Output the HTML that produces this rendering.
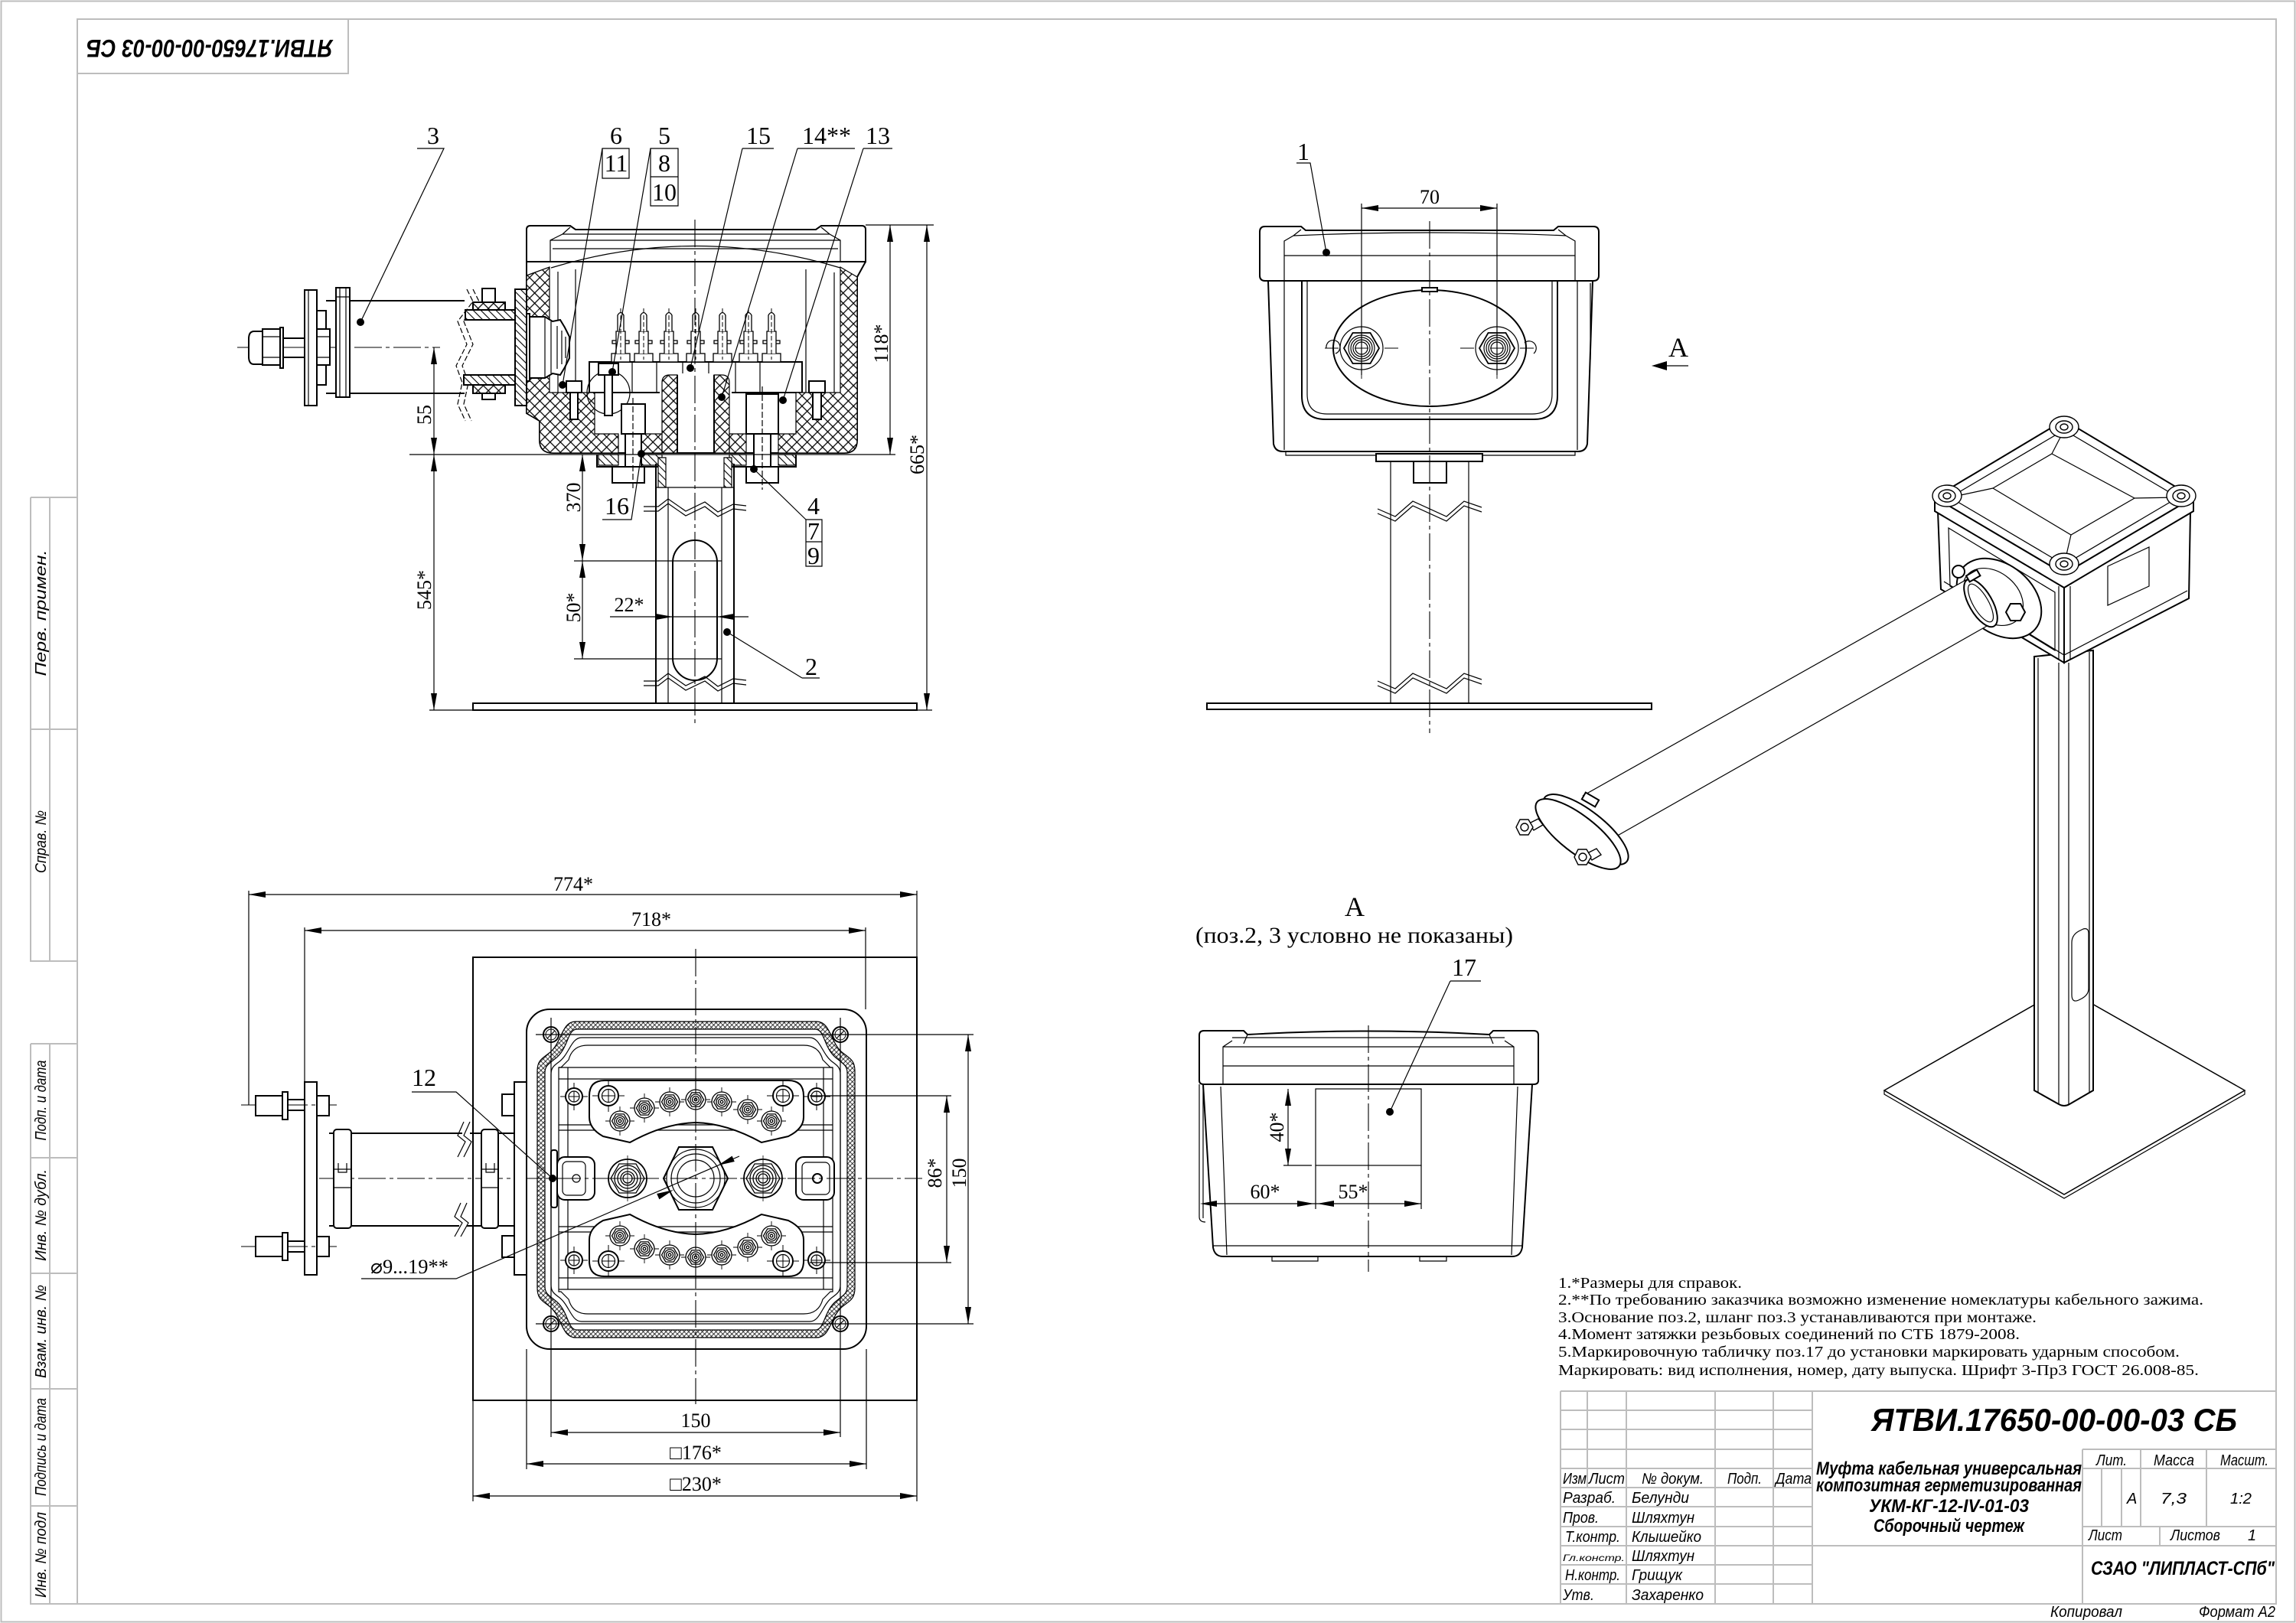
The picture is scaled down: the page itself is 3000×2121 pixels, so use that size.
<!DOCTYPE html>
<html><head><meta charset="utf-8"><style>
html,body{margin:0;padding:0;background:#fff;overflow:hidden}
svg{display:block}
.m{fill:none;stroke:#000;stroke-width:2}
.t{fill:none;stroke:#000;stroke-width:1.2}
.w{fill:#fff;stroke:#000;stroke-width:2}
.ax{fill:none;stroke:#000;stroke-width:1.1;stroke-dasharray:36 5 5 5}
.g{fill:none;stroke:#bdbdbd;stroke-width:2}
.d{fill:none;stroke:#000;stroke-width:1.2;marker-start:url(#ar);marker-end:url(#ar)}
.s{font-family:"Liberation Serif",serif;fill:#000}
.i{font-family:"Liberation Sans",sans-serif;font-style:italic;fill:#000}
.hx{fill:url(#xh);stroke:#000;stroke-width:1.2}
.hxm{fill:url(#xh);stroke:#000;stroke-width:2}
.hf{fill:url(#xf);fill-rule:evenodd;stroke:#000;stroke-width:1.2}
.hs{fill:url(#sh);stroke:#000;stroke-width:1.2}
.hsm{fill:url(#sh);stroke:#000;stroke-width:2}
</style></head><body>
<svg width="3000" height="2121" viewBox="0 0 3000 2121" xmlns="http://www.w3.org/2000/svg">
<defs>
<marker id="ar" viewBox="0 0 22 8" refX="22" refY="4" markerWidth="22" markerHeight="8" markerUnits="userSpaceOnUse" orient="auto-start-reverse"><path d="M0,0L22,4L0,8Z" fill="#000"/></marker>
<pattern id="xh" width="9.5" height="9.5" patternUnits="userSpaceOnUse" patternTransform="rotate(45)"><rect width="9.5" height="9.5" fill="#fff"/><path d="M0,4.75H9.5M4.75,0V9.5" stroke="#000" stroke-width="1.25"/></pattern>
<pattern id="xf" width="4.2" height="4.2" patternUnits="userSpaceOnUse" patternTransform="rotate(45)"><rect width="4.2" height="4.2" fill="#fff"/><path d="M0,2.1H4.2M2.1,0V4.2" stroke="#000" stroke-width="0.8"/></pattern>
<pattern id="sh" width="7" height="7" patternUnits="userSpaceOnUse" patternTransform="rotate(45)"><rect width="7" height="7" fill="#fff"/><path d="M0,3.5H7" stroke="#000" stroke-width="1.1"/></pattern>
<g id="tn" fill="#fff" stroke="#000" stroke-width="1.3"><circle r="13"/><polygon points="10.5,0 5.2,9.1 -5.2,9.1 -10.5,0 -5.2,-9.1 5.2,-9.1" fill="none"/><circle r="7" fill="none"/><circle r="4.5" fill="none"/><circle r="1.8" fill="none"/><path d="M-19,0H-13M13,0H19M0,-19V-13M0,13V19" stroke-width="0.9"/></g>
<g id="sc" fill="#fff" stroke="#000"><circle r="13" stroke-width="2"/><circle r="8.5" stroke-width="1.2"/><path d="M-8,0H8M0,-8V8M-21,0H-13M13,0H21M0,-21V-13M0,13V21" stroke-width="1"/></g>
<g id="sc2" fill="#fff" stroke="#000"><circle r="11" stroke-width="2"/><circle r="7" stroke-width="1.2"/><path d="M-7,0H7M0,-7V7M-18,0H-11M11,0H18M0,-18V-11M0,11V18" stroke-width="1"/></g>
<g id="hl" fill="#fff" stroke="#000"><circle r="10" stroke-width="2"/><circle r="7" stroke-width="1" fill="none"/><path d="M-5,5L5,-5" stroke-width="1.2"/></g>
<g id="gl" fill="#fff" stroke="#000" stroke-width="1.3"><circle r="25" stroke-width="1.8"/><polygon points="22,0 11,19 -11,19 -22,0 -11,-19 11,-19" fill="none"/><circle r="17" fill="none"/><circle r="13" fill="none"/><circle r="9" fill="none"/><circle r="6" fill="none"/><path d="M-30,0H30M0,-30V30" stroke-width="0.8"/></g>
<g id="fn" fill="#fff" stroke="#000" stroke-width="1.2"><circle r="28"/><polygon points="23,0 11.5,20 -11.5,20 -23,0 -11.5,-20 11.5,-20" fill="none" stroke-width="1.8"/><circle r="17" fill="none"/><circle r="14" fill="none"/><circle r="11" fill="none"/><circle r="8" fill="none"/><path d="M-9,0H9M0,-9V9M-48,0H-30M30,0H48M0,-40V-30M0,30V40" stroke-width="0.9"/></g>
<g id="pin" fill="#fff" stroke="#000" stroke-width="1.3"><rect x="-12" y="462" width="24" height="11"/><rect x="-11" y="445" width="22" height="4"/><path d="M-6,462V433H6V462"/><path d="M-4,433V412Q0,405 4,412V433"/><path d="M0,403V470" stroke-dasharray="6 3" stroke-width="1"/></g>
</defs>
<rect width="3000" height="2121" fill="#fff"/>

<!-- FRAME -->
<rect x="1.5" y="1.5" width="2997" height="2118" class="g"/>
<rect x="101" y="25" width="2873" height="2071" class="g" stroke-width="2.5"/>
<rect x="101" y="25" width="354" height="71" class="g"/>
<text class="i" font-size="32" font-weight="bold" text-anchor="middle" x="274" y="74" textLength="322" lengthAdjust="spacingAndGlyphs" transform="rotate(180 274 63)">ЯТВИ.17650-00-00-03 СБ</text>
<path class="g" d="M40,650V1256H101M40,650H101M65,650V1256M40,953H101M40,1364V2096H101M40,1364H101M65,1364V2096M40,1513H101M40,1664H101M40,1815H101M40,1968H101"/>
<g class="i" font-size="20" text-anchor="middle">
<text transform="translate(60,801) rotate(-90)" textLength="165" lengthAdjust="spacingAndGlyphs">Перв. примен.</text>
<text transform="translate(60,1100) rotate(-90)" textLength="82" lengthAdjust="spacingAndGlyphs">Справ. №</text>
<text transform="translate(60,1438) rotate(-90)" textLength="105" lengthAdjust="spacingAndGlyphs">Подп. и дата</text>
<text transform="translate(60,1588) rotate(-90)" textLength="120" lengthAdjust="spacingAndGlyphs">Инв. № дубл.</text>
<text transform="translate(60,1740) rotate(-90)" textLength="122" lengthAdjust="spacingAndGlyphs">Взам. инв. №</text>
<text transform="translate(60,1891) rotate(-90)" textLength="128" lengthAdjust="spacingAndGlyphs">Подпись и дата</text>
<text transform="translate(60,2032) rotate(-90)" textLength="112" lengthAdjust="spacingAndGlyphs">Инв. № подл</text>
</g>

<!-- TITLE BLOCK -->
<path class="g" d="M2039,1818H2974M2039,1843H2368M2039,1868H2368M2039,1894H2368M2721,1894H2974M2039,1919H2368M2721,1919H2974M2039,1944H2368M2039,1969H2368M2039,1995H2368M2721,1995H2974M2039,2020H2974M2039,2045H2368M2039,2070H2368
M2039,1818V2096M2074,1818V1944M2125,1818V2096M2241,1818V2096M2317,1818V2096M2368,1818V2096M2721,1894V2096M2746,1919V1995M2772,1919V1995M2797,1894V1995M2883,1894V1995M2822,1995V2020"/>
<text class="i" font-size="42" font-weight="bold" x="2445" y="1870" textLength="478" lengthAdjust="spacingAndGlyphs">ЯТВИ.17650-00-00-03 СБ</text>
<g class="i" font-size="24" font-weight="bold">
<text x="2373" y="1927" textLength="347" lengthAdjust="spacingAndGlyphs">Муфта кабельная универсальная</text>
<text x="2373" y="1949" textLength="347" lengthAdjust="spacingAndGlyphs">композитная герметизированная</text>
<text x="2442" y="1976" textLength="209" lengthAdjust="spacingAndGlyphs">УКМ-КГ-12-IV-01-03</text>
<text x="2448" y="2002" textLength="197" lengthAdjust="spacingAndGlyphs">Сборочный чертеж</text>
</g>
<g class="i" font-size="20">
<text x="2042" y="1939" textLength="31" lengthAdjust="spacingAndGlyphs">Изм</text>
<text x="2076" y="1939" textLength="47" lengthAdjust="spacingAndGlyphs">Лист</text>
<text x="2145" y="1939" textLength="81" lengthAdjust="spacingAndGlyphs">№ докум.</text>
<text x="2257" y="1939" textLength="45" lengthAdjust="spacingAndGlyphs">Подп.</text>
<text x="2320" y="1939" textLength="47" lengthAdjust="spacingAndGlyphs">Дата</text>
<text x="2042" y="1964" textLength="69" lengthAdjust="spacingAndGlyphs">Разраб.</text>
<text x="2132" y="1964" textLength="75" lengthAdjust="spacingAndGlyphs">Белунди</text>
<text x="2042" y="1990" textLength="47" lengthAdjust="spacingAndGlyphs">Пров.</text>
<text x="2132" y="1990" textLength="82" lengthAdjust="spacingAndGlyphs">Шляхтун</text>
<text x="2045" y="2015" textLength="72" lengthAdjust="spacingAndGlyphs">Т.контр.</text>
<text x="2132" y="2015" textLength="91" lengthAdjust="spacingAndGlyphs">Клышейко</text>
<text x="2042" y="2040" font-size="12" textLength="81" lengthAdjust="spacingAndGlyphs">Гл.констр.</text>
<text x="2132" y="2040" textLength="82" lengthAdjust="spacingAndGlyphs">Шляхтун</text>
<text x="2045" y="2065" textLength="72" lengthAdjust="spacingAndGlyphs">Н.контр.</text>
<text x="2132" y="2065" textLength="66" lengthAdjust="spacingAndGlyphs">Грищук</text>
<text x="2042" y="2091" textLength="41" lengthAdjust="spacingAndGlyphs">Утв.</text>
<text x="2132" y="2091" textLength="94" lengthAdjust="spacingAndGlyphs">Захаренко</text>
<text x="2739" y="1915" textLength="40" lengthAdjust="spacingAndGlyphs">Лит.</text>
<text x="2814" y="1915" textLength="53" lengthAdjust="spacingAndGlyphs">Масса</text>
<text x="2901" y="1915" textLength="63" lengthAdjust="spacingAndGlyphs">Масшт.</text>
<text x="2779" y="1965">А</text>
<text x="2823" y="1965" textLength="34" lengthAdjust="spacingAndGlyphs">7,3</text>
<text x="2914" y="1965" textLength="28" lengthAdjust="spacingAndGlyphs">1:2</text>
<text x="2729" y="2013" textLength="44" lengthAdjust="spacingAndGlyphs">Лист</text>
<text x="2836" y="2013" textLength="65" lengthAdjust="spacingAndGlyphs">Листов</text>
<text x="2937" y="2013">1</text>
<text x="2679" y="2113" textLength="94" lengthAdjust="spacingAndGlyphs">Копировал</text>
<text x="2873" y="2113" textLength="100" lengthAdjust="spacingAndGlyphs">Формат А2</text>
</g>
<text class="i" font-size="25" font-weight="bold" x="2732" y="2058" textLength="240" lengthAdjust="spacingAndGlyphs">СЗАО "ЛИПЛАСТ-СПб"</text>

<!-- NOTES -->
<g class="s" font-size="20">
<text x="2036" y="1683" textLength="240" lengthAdjust="spacingAndGlyphs">1.*Размеры для справок.</text>
<text x="2036" y="1705" textLength="843" lengthAdjust="spacingAndGlyphs">2.**По требованию заказчика возможно изменение номеклатуры кабельного зажима.</text>
<text x="2036" y="1728" textLength="625" lengthAdjust="spacingAndGlyphs">3.Основание поз.2, шланг поз.3 устанавливаются при монтаже.</text>
<text x="2036" y="1750" textLength="603" lengthAdjust="spacingAndGlyphs">4.Момент затяжки резьбовых соединений по СТБ 1879-2008.</text>
<text x="2036" y="1773" textLength="812" lengthAdjust="spacingAndGlyphs">5.Маркировочную табличку поз.17 до установки маркировать ударным способом.</text>
<text x="2036" y="1797" textLength="837" lengthAdjust="spacingAndGlyphs">Маркировать: вид исполнения, номер, дату выпуска. Шрифт 3-Пр3 ГОСТ 26.008-85.</text>
</g>

<!-- ================= TOP-LEFT SECTION VIEW ================= -->
<path class="w" d="M688,300Q688,295 693,295H745L752,300H1066L1073,295H1126Q1131,295 1131,300V342H688Z"/>
<path class="t" d="M719,342V314L735,306H1084L1098,314V342M735,306L745,297M1084,306L1073,297M719,314H1098M722,325H1095"/>
<path class="t" d="M720,350Q909,293 1098,350"/>
<path class="m" d="M688,342V540L705,550V575Q705,592 723,592H1103Q1120,592 1120,575V362L1131,342"/>
<path class="t" d="M729,355V513M752,352V513M1053,352V513M1090,356V513"/>
<rect class="w" x="770" y="473" width="278" height="40"/>
<path class="t" d="M826,473V513M858,473V513M892,473V513M926,473V513M961,473V513M993,473V513"/>
<use href="#pin" x="811"/><use href="#pin" x="841"/><use href="#pin" x="874"/><use href="#pin" x="909"/><use href="#pin" x="944"/><use href="#pin" x="978"/><use href="#pin" x="1008"/>
<rect x="862" y="488" width="94" height="26" fill="#fff"/>
<path class="hx" d="M688,360L718,349V513H777V567H808V592H723Q705,592 705,575V550L688,540Z"/>
<path class="hx" d="M833,567H865V592H833Z"/>
<path class="hx" d="M865,500Q865,490 875,490H885V592H865Z"/>
<path class="hx" d="M933,490H943Q953,490 953,500V592H933Z"/>
<path class="hx" d="M953,567H975V592H953Z"/>
<path class="hx" d="M1017,567H1040V513H1098V349L1120,362V575Q1120,592 1103,592H1017Z"/>
<path class="hs" d="M782,594H808V608H782ZM833,594H865V608H833ZM953,594H975V608H953ZM1017,594H1040V608H1017Z"/>
<path class="m" d="M780,594V610H865M953,610H1040V594M885,490V592M933,490V592"/>
<path class="w" d="M740,498H760V513H740Z"/><path class="w" d="M745,513H755V548H745Z"/>
<path class="w" d="M1057,498H1078V513H1057Z"/><path class="w" d="M1062,513H1073V548H1062Z"/>
<circle class="t" cx="795" cy="513" r="28"/>
<path class="w" d="M782,475H808V490H782Z"/><path class="w" d="M790,490H800V543H790Z"/>
<path class="w" d="M812,528H843V567H812Z"/><path class="w" d="M817,567H838V610H817Z"/><path class="w" d="M800,610H842V631H800Z"/>
<path class="w" d="M975,515H1017V567H975Z"/><path class="w" d="M985,567H1007V610H985Z"/><path class="w" d="M975,610H1017V631H975Z"/>
<path class="t" d="M827,520V640M996,505V640" stroke-dasharray="8 3"/>
<!-- hose (pos 3) -->
<path class="ax" d="M310,454H575"/>
<path class="w" d="M332,433H343V476H332Q325,476 325,466V443Q325,433 332,433Z"/>
<rect class="w" x="343" y="430" width="24" height="47"/><path class="t" d="M343,440H367M343,467H367"/>
<rect class="w" x="366" y="428" width="4" height="53"/>
<path class="m" d="M370,442H398M370,467H398"/>
<rect class="w" x="398" y="379" width="16" height="151"/><path class="t" d="M403,379V530"/>
<rect class="w" x="414" y="406" width="12" height="97"/>
<rect class="w" x="414" y="430" width="17" height="47"/><path class="t" d="M414,440H431M414,467H431"/>
<path class="m" d="M426,393H607M426,514H607"/>
<rect class="w" x="439" y="376" width="18" height="143"/>
<path class="t" d="M444,376V519M452,376V519M439,388H457"/>
<path class="t" d="M610,378L618,394L598,420L610,450L596,478L604,500L598,528L608,550M618,378L626,394L606,420L618,450L604,478L612,500L606,528L616,550" stroke-dasharray="7 3"/>
<path class="hsm" d="M608,405H682V418H608Z"/>
<path class="hxm" d="M618,395H660V405H618Z"/>
<path class="hsm" d="M606,490H682V503H606Z"/>
<path class="hxm" d="M618,503H660V514H618Z"/>
<rect class="w" x="630" y="377" width="17" height="18"/><rect class="w" x="630" y="514" width="17" height="8"/>
<path class="t" d="M606,418H686M606,490H686"/>
<path class="hsm" d="M673,378H688V530H673Z"/>
<rect class="w" x="688" y="410" width="4" height="88"/>
<path class="w" d="M692,414H712L722,420L732,418L738,428L744,440V468L738,480L732,490L722,488L712,494H692Z"/>
<path class="t" d="M712,414V494M720,420V488M728,426V482M734,432V476M739,440V468"/>
<!-- post -->
<path class="m" d="M857,606V919M959,606V919"/>
<path class="t" d="M873,637V919M943,637V919M857,637H959"/>
<path class="hs" d="M860,598H870V637H860ZM946,598H956V637H946Z"/>
<rect class="m" x="879" y="706" width="58" height="183" rx="29"/>
<path class="t" d="M841,662L860,662L873,652L896,668L921,656L938,669L958,659L975,661M841,668L860,668L873,658L896,674L921,662L938,675L958,665L975,667"/>
<path class="t" d="M841,890L860,890L873,880L896,896L921,884L938,897L958,887L975,889M841,896L860,896L873,886L896,902L921,890L938,903L958,893L975,895"/>
<rect class="m" x="618" y="919" width="580" height="9"/>
<path class="ax" d="M908,287V945"/>
<path class="t" d="M1131,294H1220M535,594H1170M561,928H1218M750,733H943M750,861H943"/>
<path class="d" d="M567,454V594"/>
<path class="d" d="M567,594V928"/>
<path class="d" d="M761,594V733"/>
<path class="d" d="M761,733V861"/>
<path class="d" d="M1163,294V594"/>
<path class="d" d="M1211,294V928"/>
<path class="t" d="M797,806H978"/>
<path d="M857,802L879,806L857,810ZM959,802L937,806L959,810Z"/>
<g class="s" font-size="26" text-anchor="middle">
<text transform="translate(563,542) rotate(-90)">55</text>
<text transform="translate(563,771) rotate(-90)">545*</text>
<text transform="translate(758,650) rotate(-90)">370</text>
<text transform="translate(758,794) rotate(-90)">50*</text>
<text transform="translate(1160,449) rotate(-90)">118*</text>
<text transform="translate(1207,594) rotate(-90)">665*</text>
<text x="822" y="799">22*</text>
</g>
<g class="s" font-size="32" text-anchor="middle">
<text x="566" y="188">3</text>
<text x="805" y="188">6</text>
<text x="805" y="224">11</text>
<text x="868" y="188">5</text>
<text x="868" y="224">8</text>
<text x="868" y="262">10</text>
<text x="991" y="188">15</text>
<text x="1080" y="188">14**</text>
<text x="1147" y="188">13</text>
<text x="806" y="672">16</text>
<text x="1063" y="672">4</text>
<text x="1063" y="705">7</text>
<text x="1063" y="737">9</text>
<text x="1060" y="882">2</text>
</g>
<path class="t" d="M545,194H580L471,421M787,194L735,503M850,194L800,486M970,194H1011M970,194L902,481M1042,194H1117M1042,194L943,519M1128,194H1166M1128,194L1023,523M787,679H825L838,593M1053,679L985,613M1048,886H1071M1048,886L950,826"/>
<path class="t" d="M787,194H822V233H787ZM850,194H886V231H850ZM850,231H886V269H850ZM1053,679H1074V708H1053ZM1053,708H1074V740H1053Z"/>
<g fill="#000"><circle cx="471" cy="421" r="5"/><circle cx="735" cy="503" r="5"/><circle cx="800" cy="486" r="5"/><circle cx="902" cy="481" r="5"/><circle cx="943" cy="519" r="5"/><circle cx="1023" cy="523" r="5"/><circle cx="838" cy="593" r="5"/><circle cx="985" cy="613" r="5"/><circle cx="950" cy="826" r="5"/></g>

<!-- ================= PLAN VIEW ================= -->
<path class="t" d="M325,1164V1444M1198,1164V1251M398,1212V1414M1131,1212V1319"/>
<path class="d" d="M325,1169H1198"/>
<path class="d" d="M398,1216H1131"/>
<rect class="m" x="618" y="1251" width="580" height="579" stroke-width="1.6"/>
<rect class="w" x="688" y="1319" width="444" height="444" rx="30"/>
<path class="hf" d="M752,1335H1067C1085,1335 1085,1362 1100,1375C1110,1383 1117,1385 1117,1400V1683C1117,1698 1110,1700 1100,1708C1085,1721 1085,1748 1067,1748H752C734,1748 734,1721 719,1708C709,1700 702,1698 702,1683V1400C702,1385 709,1383 719,1375C734,1362 734,1335 752,1335Z M754,1345H1065C1078,1345 1076,1370 1093,1383C1103,1391 1107,1393 1107,1402V1681C1107,1690 1103,1692 1093,1700C1076,1713 1078,1738 1065,1738H754C741,1738 743,1713 726,1700C716,1692 712,1690 712,1681V1402C712,1393 716,1391 726,1383C743,1370 741,1345 754,1345Z"/>
<path class="t" d="M760,1356H1058C1072,1356 1074,1378 1088,1388C1095,1393 1098,1396 1098,1404V1679C1098,1687 1095,1690 1088,1695C1074,1705 1072,1727 1058,1727H760C746,1727 744,1705 730,1695C723,1690 720,1687 720,1679V1404C720,1396 723,1393 730,1388C744,1378 746,1356 760,1356Z"/>
<path class="t" d="M768,1366H1050Q1070,1366 1075,1385L1085,1395H1088V1688H1085L1075,1698Q1070,1717 1050,1717H768Q748,1717 743,1698L733,1688H730V1395H733L743,1385Q748,1366 768,1366Z"/>
<path class="t" d="M730,1395H1088M730,1410H1088M730,1470H1088M730,1477H1088M730,1603H1088M730,1610H1088M730,1670H1088M730,1685H1088M742,1395V1685M1076,1395V1685"/>
<path class="w" stroke-width="1.6" d="M770,1432Q770,1412 790,1412H1030Q1050,1412 1050,1432V1460Q1050,1475 1030,1485L995,1493Q950,1468 909,1467Q868,1468 823,1493L788,1485Q770,1475 770,1460Z"/>
<path class="w" stroke-width="1.6" d="M770,1648Q770,1668 790,1668H1030Q1050,1668 1050,1648V1620Q1050,1605 1030,1595L995,1587Q950,1612 909,1613Q868,1612 823,1587L788,1595Q770,1605 770,1620Z"/>
<use href="#tn" x="810" y="1465"/><use href="#tn" x="842" y="1448"/><use href="#tn" x="875" y="1440"/><use href="#tn" x="909" y="1437"/><use href="#tn" x="943" y="1440"/><use href="#tn" x="977" y="1450"/><use href="#tn" x="1008" y="1465"/>
<use href="#tn" x="810" y="1615"/><use href="#tn" x="842" y="1632"/><use href="#tn" x="875" y="1640"/><use href="#tn" x="909" y="1643"/><use href="#tn" x="943" y="1640"/><use href="#tn" x="977" y="1630"/><use href="#tn" x="1008" y="1615"/>
<use href="#sc" x="795" y="1432"/><use href="#sc" x="1023" y="1432"/><use href="#sc" x="795" y="1648"/><use href="#sc" x="1023" y="1648"/>
<use href="#sc2" x="750" y="1433"/><use href="#sc2" x="1067" y="1433"/><use href="#sc2" x="750" y="1647"/><use href="#sc2" x="1067" y="1647"/>
<path class="w" d="M867,1540L887,1499H931L951,1540L931,1581H887Z"/>
<circle class="t" cx="909" cy="1540" r="38"/><circle class="t" cx="909" cy="1540" r="32"/><circle class="t" cx="909" cy="1540" r="24"/>
<use href="#gl" x="820" y="1540"/><use href="#gl" x="997" y="1540"/>
<rect class="w" x="728" y="1512" width="49" height="56" rx="10"/>
<rect class="t" x="735" y="1518" width="30" height="44" rx="6"/>
<rect class="w" x="720" y="1503" width="8" height="75" rx="3"/>
<circle class="t" cx="753" cy="1540" r="5"/>
<rect class="w" x="1040" y="1512" width="50" height="56" rx="10"/>
<rect class="t" x="1048" y="1519" width="36" height="42" rx="6"/>
<circle class="m" cx="1068" cy="1540" r="6"/>
<use href="#hl" x="720" y="1352"/><use href="#hl" x="1098" y="1352"/><use href="#hl" x="720" y="1730"/><use href="#hl" x="1098" y="1730"/>
<path class="ax" d="M909,1240V1835M417,1540H1205"/>
<path class="t" d="M720,1330V1878M1098,1330V1878M700,1352H1272M700,1730H1272M1058,1432H1243M1058,1650H1243M688,1763V1920M1132,1763V1920M618,1830V1962M1198,1830V1962"/>
<path class="d" d="M1265,1352V1730"/>
<path class="d" d="M1237,1432V1650"/>
<path class="d" d="M720,1872H1098"/>
<path class="d" d="M688,1913H1132"/>
<path class="d" d="M618,1955H1198"/>
<g class="s" font-size="26" text-anchor="middle">
<text x="749" y="1164">774*</text>
<text x="851" y="1210">718*</text>
<text x="909" y="1865">150</text>
<text x="909" y="1907">□176*</text>
<text x="909" y="1948">□230*</text>
<text transform="translate(1230,1533) rotate(-90)">86*</text>
<text transform="translate(1262,1533) rotate(-90)">150</text>
</g>
<rect class="w" x="398" y="1414" width="16" height="252"/>
<path class="ax" d="M315,1444H440M315,1629H440"/>
<rect class="w" x="334" y="1432" width="35" height="26"/><rect class="w" x="369" y="1427" width="7" height="36"/><path class="m" d="M376,1437H398M376,1451H398"/><rect class="w" x="414" y="1432" width="16" height="26"/>
<rect class="w" x="334" y="1616" width="35" height="26"/><rect class="w" x="369" y="1611" width="7" height="36"/><path class="m" d="M376,1622H398M376,1636H398"/><rect class="w" x="414" y="1616" width="16" height="26"/>
<path class="m" d="M430,1481H604M614,1481H672M430,1602H600M610,1602H672"/>
<path class="t" d="M606,1466L598,1484L608,1492L598,1512M614,1466L606,1484L616,1492L606,1512M602,1572L594,1590L604,1598L594,1616M610,1572L602,1590L612,1598L602,1616"/>
<rect class="w" x="436" y="1476" width="23" height="129" rx="4"/><path class="t" d="M436,1528H459M436,1552H459M442,1520V1532H453V1520"/>
<rect class="w" x="629" y="1476" width="22" height="129" rx="4"/><path class="t" d="M629,1528H651M629,1552H651M635,1520V1532H646V1520"/>
<rect class="w" x="672" y="1414" width="16" height="252"/>
<rect class="w" x="656" y="1430" width="16" height="28"/><rect class="w" x="656" y="1615" width="16" height="28"/>
<g class="s" text-anchor="middle"><text x="554" y="1419" font-size="32">12</text></g>
<text class="s" x="484" y="1664" font-size="26" textLength="102" lengthAdjust="spacingAndGlyphs">⌀9...19**</text>
<path class="t" d="M538,1427H596L722,1540M472,1671H596L966,1511"/>
<path d="M880,1555L858.2,1560L861.4,1567.4ZM938,1523L956.6,1510.6L959.8,1518Z"/>
<circle cx="722" cy="1540" r="5"/>

<!-- ================= FRONT VIEW ================= -->
<path class="w" d="M1646,303Q1646,296 1653,296H1700L1706,301H2030L2036,296H2082Q2089,296 2089,303V360Q2089,367 2082,367H1653Q1646,367 1646,360Z"/>
<path class="t" d="M1678,367V315L1690,308Q1868,300 2046,308L2058,315V367M1678,334H2058M1690,308L1700,300M2046,308L2036,300"/>
<path class="w" d="M1657,367L1664,580Q1666,590 1676,590H2062Q2072,590 2074,580L2081,367Z"/>
<path class="t" d="M1678,367V588M2061,367V588M1680,590V595H2058V590M2078,370V470"/>
<path class="m" d="M1701,367V517Q1701,548 1732,548H2004Q2035,548 2035,517V367"/>
<path class="t" d="M1708,367V515Q1708,541 1734,541H2002Q2028,541 2028,515V367"/>
<ellipse class="m" cx="1868" cy="455" rx="126" ry="76" stroke-width="1.5"/>
<path class="t" d="M1733,455A9,9 0 1,1 1745,462M2004,462A9,9 0 1,0 1992,448"/>
<use href="#fn" x="1779" y="455"/><use href="#fn" x="1956" y="455"/>
<rect class="w" x="1858" y="376" width="20" height="5"/>
<rect class="w" x="1798" y="593" width="139" height="10"/>
<rect class="w" x="1847" y="603" width="43" height="28"/>
<path class="t" d="M1817,603V919M1919,603V919"/>
<path class="t" d="M1800,665L1823,675L1846,655L1890,675L1913,655L1936,663M1800,671L1823,681L1846,661L1890,681L1913,661L1936,669"/>
<path class="t" d="M1800,890L1823,900L1846,880L1890,900L1913,880L1936,888M1800,896L1823,906L1846,886L1890,906L1913,886L1936,894"/>
<rect class="m" x="1577" y="919" width="581" height="8"/>
<path class="ax" d="M1868,289V958"/>
<path class="t" d="M1779,266V490M1956,266V490"/>
<path class="d" d="M1779,272H1956"/>
<text class="s" font-size="26" x="1868" y="266" text-anchor="middle">70</text>
<text class="s" font-size="32" x="1703" y="209" text-anchor="middle">1</text>
<path class="t" d="M1694,213H1712L1733,330"/>
<circle cx="1733" cy="330" r="5"/>
<text class="s" font-size="36" x="2193" y="466" text-anchor="middle">A</text>
<path class="t" d="M2206,478H2176"/><path d="M2178,472L2158,478L2178,484Z"/>

<!-- ================= VIEW A ================= -->
<text class="s" font-size="36" x="1770" y="1197" text-anchor="middle">А</text>
<text class="s" font-size="30" x="1562" y="1232" textLength="415" lengthAdjust="spacingAndGlyphs">(поз.2, 3 условно не показаны)</text>
<text class="s" font-size="32" x="1913" y="1275" text-anchor="middle">17</text>
<path class="w" d="M1567,1353Q1567,1347 1573,1347H1625L1630,1352Q1788,1343 1946,1352L1951,1347H2004Q2010,1347 2010,1353V1412Q2010,1417 2004,1417H1573Q1567,1417 1567,1412Z"/>
<path class="t" d="M1598,1417V1368L1610,1360M1978,1417V1368L1966,1360M1610,1356H1966M1598,1368H1978M1598,1393H1978M1630,1352L1625,1364M1946,1352L1951,1364"/>
<path class="w" d="M1572,1417L1585,1630Q1587,1642 1598,1642H1976Q1987,1642 1989,1630L2002,1417Z"/>
<path class="t" d="M1595,1420L1603,1640M1983,1420L1975,1640M1585,1628H1989M1567,1417V1590Q1567,1597 1575,1597M1572,1420V1592"/>
<path class="t" d="M1662,1642V1648H1722V1642M1855,1642V1648H1890V1642"/>
<rect class="t" x="1719" y="1423" width="138" height="100" stroke-width="1.4"/>
<path class="ax" d="M1788,1340V1662"/>
<path class="t" d="M1677,1523H1714M1719,1523V1580M1857,1523V1580M1572,1573H1857"/>
<path class="d" d="M1683,1423V1523"/>
<path d="M1568,1573L1590,1569L1590,1577ZM1717,1573L1695,1569L1695,1577ZM1721,1573L1743,1569L1743,1577ZM1857,1573L1835,1569L1835,1577Z"/>
<g class="s" font-size="26" text-anchor="middle">
<text transform="translate(1677,1473) rotate(-90)">40*</text>
<text x="1653" y="1566">60*</text>
<text x="1768" y="1566">55*</text>
</g>
<path class="t" d="M1895,1282H1935M1895,1282L1816,1453"/>
<circle cx="1816" cy="1453" r="5"/>

<!-- ================= ISOMETRIC ================= -->
<path fill="#fff" stroke="#000" stroke-width="1.5" d="M2462,1425L2697,1291L2933,1425L2697,1561Z"/>
<path class="t" d="M2462,1425V1430L2697,1566L2933,1430V1425"/>
<path class="w" d="M2658,858L2735,850V1425L2704,1443Q2697,1447 2690,1443L2658,1425Z"/>
<path class="t" d="M2663,860V1427M2690,866V1443M2703,866V1443M2730,852V1428"/>
<path class="t" d="M2707,1232Q2707,1222 2716,1217L2722,1214Q2729,1212 2729,1220V1292Q2729,1300 2720,1305L2716,1307Q2707,1311 2707,1300Z"/>
<path class="w" d="M2532,668L2697,768V866L2536,770Z"/>
<path class="w" d="M2697,768L2862,668L2860,782L2697,866Z"/>
<path class="t" d="M2690,766V862M2705,766V862M2546,690L2685,774V850L2548,766ZM2540,760L2697,856L2858,772"/>
<path class="t" d="M2754,740L2808,715V766L2754,791Z"/>
<path class="w" d="M2528,650L2697,750L2866,650V668L2697,768L2528,668Z"/>
<path class="w" d="M2528,650L2697,549L2866,650L2697,750Z"/>
<path class="t" d="M2697,562L2846,650L2697,738L2548,650Z"/>
<path class="t" d="M2681,593L2789,651L2706,699L2604,638ZM2697,562L2681,593M2846,650L2789,651M2697,738L2706,699M2548,650L2604,638"/>
<g fill="#fff" stroke="#000" stroke-width="1.4">
<ellipse cx="2697" cy="558" rx="19" ry="14"/><ellipse cx="2697" cy="558" rx="11" ry="8"/><ellipse cx="2697" cy="558" rx="5" ry="4"/>
<ellipse cx="2544" cy="648" rx="19" ry="14"/><ellipse cx="2544" cy="648" rx="11" ry="8"/><ellipse cx="2544" cy="648" rx="5" ry="4"/>
<ellipse cx="2850" cy="648" rx="19" ry="14"/><ellipse cx="2850" cy="648" rx="11" ry="8"/><ellipse cx="2850" cy="648" rx="5" ry="4"/>
<ellipse cx="2697" cy="737" rx="19" ry="14"/><ellipse cx="2697" cy="737" rx="11" ry="8"/><ellipse cx="2697" cy="737" rx="5" ry="4"/>
</g>
<ellipse class="w" cx="2612" cy="782" rx="62" ry="44" transform="rotate(40 2612 782)"/>
<ellipse class="t" cx="2604" cy="780" rx="44" ry="32" transform="rotate(40 2604 780)"/>
<polygon class="w" points="2646,800 2640,811 2627,811 2621,800 2627,789 2640,789"/>
<circle class="w" cx="2559" cy="747" r="8"/>
<path fill="#fff" d="M2572,756L2068,1040L2110,1094L2598,817Z"/>
<path class="t" d="M2572,756L2068,1040M2598,817L2110,1094"/>
<ellipse class="w" cx="2588" cy="788" rx="35" ry="15" transform="rotate(60 2588 788)"/>
<ellipse class="t" cx="2588" cy="788" rx="28" ry="10" transform="rotate(60 2588 788)"/>
<rect class="w" x="2570" y="748" width="16" height="9" transform="rotate(-30 2578 752)"/>
<ellipse class="w" cx="2072" cy="1084" rx="68" ry="24" transform="rotate(38 2072 1084)"/>
<ellipse class="w" cx="2062" cy="1090" rx="68" ry="24" transform="rotate(38 2062 1090)"/>
<rect class="w" x="2068" y="1040" width="20" height="10" transform="rotate(30 2078 1045)"/>
<g fill="#fff" stroke="#000" stroke-width="1.4">
<path d="M1998,1076L2010,1070L2016,1078L2004,1085Z"/>
<polygon points="2003,1081 1997,1091 1986,1091 1981,1081 1986,1071 1997,1071"/><circle cx="1992" cy="1081" r="5"/>
<path d="M2074,1115L2086,1109L2092,1117L2080,1124Z"/>
<polygon points="2079,1120 2073,1130 2062,1130 2057,1120 2062,1110 2073,1110"/><circle cx="2068" cy="1120" r="5"/>
</g>
</svg>
</body></html>
